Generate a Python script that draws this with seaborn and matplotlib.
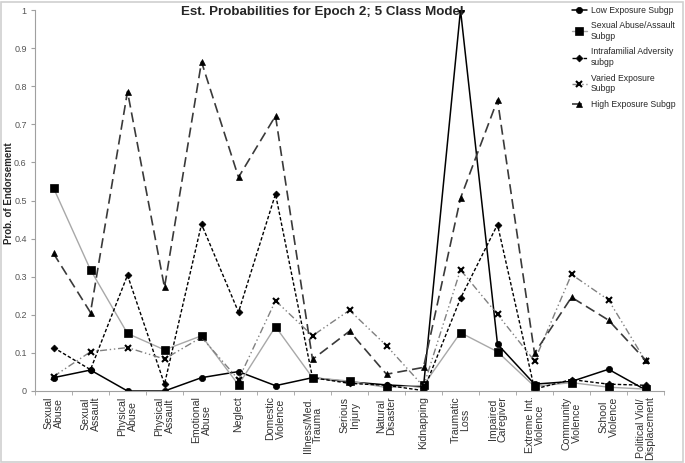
import matplotlib
matplotlib.use("Agg")
import matplotlib.pyplot as plt
from matplotlib.patches import Rectangle
import seaborn as sns
import pandas as pd

categories = ["Sexual\nAbuse", "Sexual\nAssault", "Physical\nAbuse", "Physical\nAssault",
              "Emotional\nAbuse", "Neglect", "Domestic\nViolence", "Illness/Med.\nTrauma",
              "Serious\nInjury", "Natural\nDisaster", "Kidnapping", "Traumatic\nLoss",
              "Impaired\nCaregiver", "Extreme Int.\nViolence", "Community\nViolence",
              "School\nViolence", "Political Viol/\nDisplacement"]

low_exposure = [0.035, 0.055, 0.0, 0.0, 0.035, 0.051, 0.014, 0.035, 0.024, 0.016,
                0.011, 1.0, 0.123, 0.018, 0.025, 0.057, 0.003]
sexual_abuse = [0.533, 0.318, 0.151, 0.108, 0.145, 0.016, 0.169, 0.035, 0.026, 0.009,
                0.015, 0.153, 0.103, 0.012, 0.022, 0.010, 0.005]
intrafamilial = [0.114, 0.056, 0.304, 0.018, 0.438, 0.207, 0.517, 0.035, 0.020, 0.015,
                 0.001, 0.243, 0.437, 0.005, 0.030, 0.018, 0.015]
varied = [0.038, 0.103, 0.114, 0.084, 0.141, 0.030, 0.237, 0.145, 0.212, 0.119,
          0.012, 0.318, 0.201, 0.079, 0.306, 0.239, 0.079]
high_exposure = [0.361, 0.206, 0.786, 0.272, 0.864, 0.561, 0.722, 0.083, 0.157, 0.044,
                 0.062, 0.506, 0.764, 0.099, 0.246, 0.186, 0.081]

series_names = ["Low Exposure Subgp", "Sexual Abuse/Assault\nSubgp",
                "Intrafamilial Adversity\nsubgp", "Varied Exposure\nSubgp",
                "High Exposure Subgp"]
series_values = [low_exposure, sexual_abuse, intrafamilial, varied, high_exposure]

sns.set_style("white")
plt.rcParams['font.family'] = ['Liberation Sans', 'DejaVu Sans']

# styles per series
styles = [
    dict(color="black", marker="o", ls="-", lw=1.1, ms=4.5),
    dict(color="#a8a8a8", marker="s", ls="-", lw=1.0, ms=5.5, mfc="black", mec="black"),
    dict(color="black", marker="D", ls=(0, (2.5, 1.5)), lw=1.0, ms=3.5),
    dict(color="#808080", marker="x", ls=(0, (5, 2, 1, 2, 1, 2)), lw=1.0, ms=5, mec="black", mew=1.5),
    dict(color="#3a3a3a", marker="^", ls=(0, (6, 3)), lw=1.2, ms=5, mfc="black", mec="black"),
]

fig = plt.figure(figsize=(6.85, 4.63), dpi=100)
ax = fig.add_axes([35/685, 1 - 391/463, 629/685, 381/463])

for name, vals, st in zip(series_names, series_values, styles):
    df = pd.DataFrame({"category": categories, "prob": vals})
    sns.lineplot(data=df, x="category", y="prob", sort=False, ax=ax, label=name,
                 color=st["color"], marker=st["marker"], markersize=st["ms"],
                 markerfacecolor=st.get("mfc", st["color"]),
                 markeredgecolor=st.get("mec", st["color"]),
                 markeredgewidth=st.get("mew", 0.5), linewidth=st["lw"],
                 linestyle=st["ls"])

ax.set_xlim(-0.5, len(categories) - 0.5)
ax.set_ylim(0, 1)
ax.set_yticks([i / 10 for i in range(11)])
ax.set_yticklabels(["0", "0.1", "0.2", "0.3", "0.4", "0.5", "0.6", "0.7", "0.8", "0.9", "1"])
ax.set_xticks(range(len(categories)))
ax.set_xticklabels(categories, rotation=90, fontsize=7.6, color="#333333", linespacing=1.0)
ax.set_xticks([i - 0.5 for i in range(len(categories) + 1)], minor=True)
ax.tick_params(axis="x", which="major", length=0, pad=4)
ax.tick_params(axis="x", which="minor", length=3, color="#a0a0a0", direction="out")
ax.tick_params(axis="y", labelsize=6.5, labelcolor="#555555", length=3, color="#a0a0a0",
               direction="out", pad=3)
ax.tick_params(bottom=True, left=True, which="both")
for side in ["top", "right"]:
    ax.spines[side].set_visible(False)
for side in ["left", "bottom"]:
    ax.spines[side].set_color("#a0a0a0")
    ax.spines[side].set_linewidth(0.8)
ax.set_xlabel("")
ax.set_ylabel("Prob. of Endorsement", fontsize=7, fontweight="bold")
ax.yaxis.set_label_coords(-0.033, 0.52)

fig.text(0.47, 0.974, "Est. Probabilities for Epoch 2; 5 Class Model", ha="center",
         va="center", fontsize=9.6, fontweight="bold")

leg = ax.legend(loc="upper left", bbox_to_anchor=(569/685, 1 - 3/463),
                bbox_transform=fig.transFigure, frameon=False, fontsize=6.2,
                handlelength=1.8, handletextpad=0.4, labelspacing=0.78,
                borderaxespad=0, borderpad=0.3)

fig.patches.append(Rectangle((0.002, 0.003), 0.995, 0.993, transform=fig.transFigure,
                             fill=False, edgecolor="#d0d0d0", linewidth=1.2))

fig.savefig("out.png", dpi=100)
